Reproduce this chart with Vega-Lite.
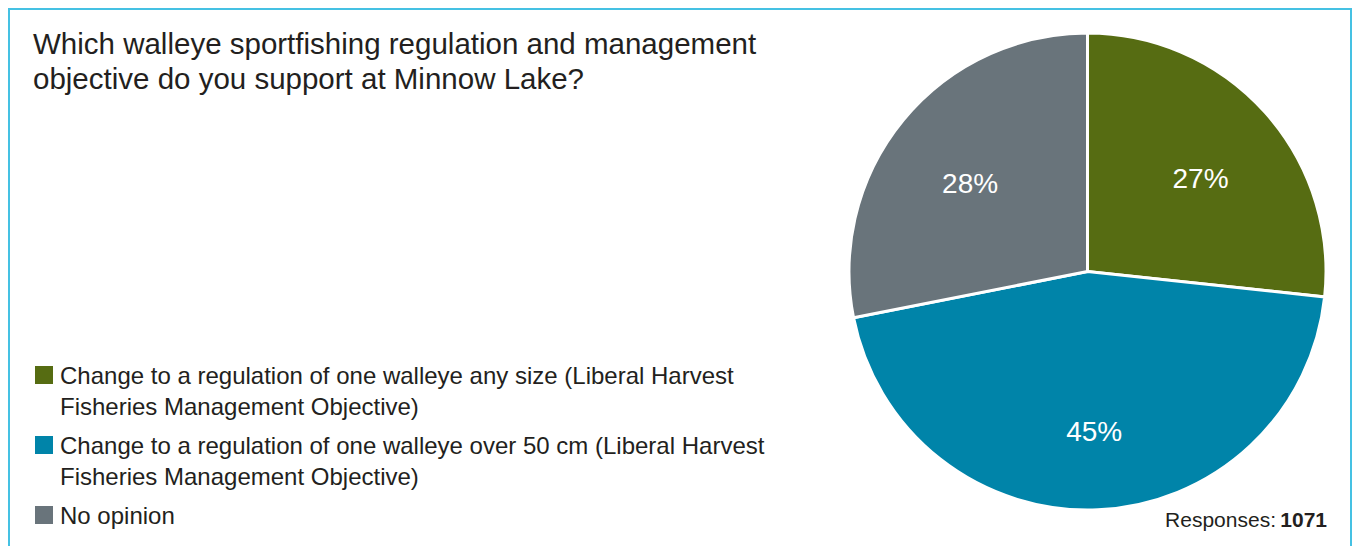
{
  "$schema": "https://vega.github.io/schema/vega-lite/v6.json",
  "width": 1353,
  "height": 546,
  "autosize": {"type": "fit", "contains": "padding"},
  "padding": {"left": 9, "top": 9, "right": 2, "bottom": -6},
  "background": "white",
  "view": {"stroke": "#45c1e3", "strokeWidth": 2, "fill": "white"},
  "config": {
    "view": {"stroke": "#45c1e3", "strokeWidth": 2},
    "font": "Liberation Sans",
    "text": {"font": "Liberation Sans"},
    "style": {"guide-label": {"lineHeight": 31, "dy": -10}}
  },
  "title": {
    "text": ["Which walleye sportfishing regulation and management", "objective do you support at Minnow Lake?"],
    "anchor": "start",
    "frame": "group",
    "orient": "top",
    "offset": -86,
    "dx": 24,
    "fontSize": 29.5,
    "fontWeight": "normal",
    "font": "Liberation Sans",
    "color": "#231f20",
    "lineHeight": 35
  },
  "data": {
    "values": [
      {"category": "Change to a regulation of one walleye any size (Liberal Harvest Fisheries Management Objective)", "pct": 26.7, "label": "27%"},
      {"category": "Change to a regulation of one walleye over 50 cm (Liberal Harvest Fisheries Management Objective)", "pct": 45.2, "label": "45%"},
      {"category": "No opinion", "pct": 28.1, "label": "28%"}
    ]
  },
  "layer": [
    {
      "mark": {"type": "arc", "outerRadius": 238.5, "stroke": "white", "strokeWidth": 3, "x": {"expr": "width - 263.5"}, "y": {"expr": "262.5"}},
      "encoding": {
        "theta": {"field": "pct", "type": "quantitative", "stack": true},
        "order": {"field": "category", "type": "nominal", "sort": "ascending"},
        "color": {
          "field": "category",
          "type": "nominal",
          "scale": {
            "domain": [
              "Change to a regulation of one walleye any size (Liberal Harvest Fisheries Management Objective)",
              "Change to a regulation of one walleye over 50 cm (Liberal Harvest Fisheries Management Objective)",
              "No opinion"
            ],
            "range": ["#566c12", "#0084a9", "#69747b"]
          },
          "legend": {
            "orient": "none",
            "legendX": 23,
            "legendY": 354,
            "title": null,
            "padding": 0,
            "symbolType": "square",
            "symbolSize": 324,
            "symbolStrokeWidth": 0,
            "symbolOpacity": 1,
            "labelFontSize": 24,
            "labelFont": "Liberation Sans",
            "labelColor": "#231f20",
            "labelLimit": 900,
            "labelOffset": 4,
            "rowPadding": 13,
            "labelBaseline": "top",
            "labelExpr": "split(replace(datum.label, ' Fisheries', '|Fisheries'), '|')"
          }
        }
      }
    },
    {
      "mark": {"type": "text", "radius": 152, "x": {"expr": "width - 263.5"}, "y": {"expr": "262.5"}, "dy": 10, "fontSize": 28, "fill": "white", "baseline": "middle", "align": "center"},
      "encoding": {
        "theta": {"field": "pct", "type": "quantitative", "stack": true},
        "order": {"field": "category", "type": "nominal", "sort": "ascending"},
        "detail": {"field": "category", "type": "nominal"},
        "text": {"field": "label", "type": "nominal"}
      }
    },
    {
      "data": {"values": [{"caption": "Responses:", "n": "1071"}]},
      "layer": [
        {
          "mark": {"type": "text", "align": "right", "baseline": "alphabetic", "fontSize": 21, "fill": "#231f20", "x": {"expr": "width - 75"}, "y": {"expr": "518"}},
          "encoding": {"text": {"field": "caption", "type": "nominal"}}
        },
        {
          "mark": {"type": "text", "align": "right", "baseline": "alphabetic", "fontSize": 21, "fontWeight": "bold", "fill": "#231f20", "x": {"expr": "width - 24"}, "y": {"expr": "518"}},
          "encoding": {"text": {"field": "n", "type": "nominal"}}
        }
      ]
    }
  ]
}
